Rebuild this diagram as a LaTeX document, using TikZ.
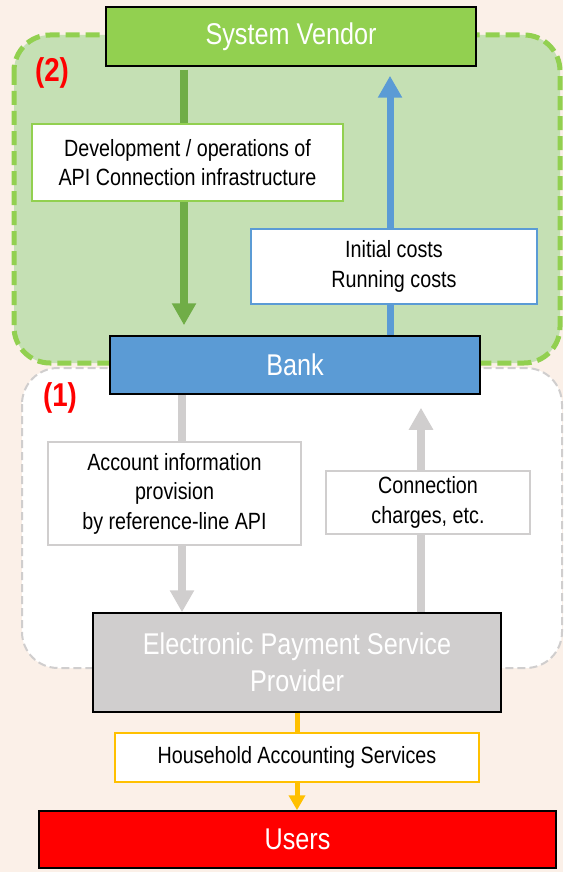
\documentclass[tikz,border=0pt]{standalone}
\usepackage{fontspec}
\setmainfont{Liberation Sans}[FakeStretch=0.84]
\usetikzlibrary{arrows.meta,calc}
\definecolor{bgpeach}{HTML}{FBF0E8}
\definecolor{gfill}{HTML}{C5E0B4}
\definecolor{gline}{HTML}{92D050}
\definecolor{garrowc}{HTML}{70AD47}
\definecolor{bluec}{HTML}{5B9BD5}
\definecolor{grayc}{HTML}{D0CECE}
\definecolor{yelc}{HTML}{FFC000}
\definecolor{redc}{HTML}{FF0000}
\tikzset{
  bigfont/.style={font=\fontsize{30}{37}\selectfont},
  smallfont/.style={font=\fontsize{23.5}{29.5}\selectfont},
  mainbox/.style={draw=black, line width=1.5pt, inner sep=0pt, align=center, text=white, bigfont},
  labelbox/.style={fill=white, line width=2pt, inner sep=0pt, align=center, text=black, smallfont},
  fatarrow/.style={line width=7.5pt, -{Triangle[width=23pt,length=22pt]}},
  regionlabel/.style={text=redc, font=\fontsize{33}{35}\selectfont\bfseries, inner sep=0pt}
}
\begin{document}
\begin{tikzpicture}[x=1pt,y=-1pt]
\useasboundingbox (0,0) rectangle (563,872);
\fill[bgpeach] (0,0) rectangle (563,872);

% regions
\draw[gline, fill=gfill, line width=5pt, dash pattern=on 14pt off 6pt, rounded corners=36pt]
  (14,35) rectangle (560,363);
\draw[grayc, fill=white, line width=2pt, dash pattern=on 8pt off 4pt, rounded corners=36pt]
  (22,368) rectangle (562,668);
\node[regionlabel] (r2) at (52,73) {(2)};
\node[regionlabel] (r1) at (60,398) {(1)};

% main boxes
\node[mainbox, fill=gline, minimum width=370pt, minimum height=59pt] (sv) at (291,36.5) {System Vendor};
\node[mainbox, fill=bluec, minimum width=370pt, minimum height=58pt] (bank) at (295,365) {Bank};
\node[mainbox, fill=grayc, minimum width=408pt, minimum height=99pt] (epsp) at (297,662.5) {Electronic Payment Service\\Provider};
\node[mainbox, fill=redc, minimum width=517pt, minimum height=57pt] (users) at (297.5,839.5) {Users};

% arrow columns
\coordinate (gx) at (184,0);
\coordinate (bx) at (390,0);
\coordinate (ax) at (182,0);
\coordinate (cx) at (421,0);
\coordinate (yx) at (297,0);

% arrows
\draw[fatarrow, garrowc, shorten <=3pt, shorten >=10pt] (sv.south -| gx) -- (bank.north -| gx);
\draw[fatarrow, bluec, line width=7pt, shorten >=9pt] (bank.north -| bx) -- (sv.south -| bx);
\draw[fatarrow, grayc] (bank.south -| ax) -- (epsp.north -| ax);
\draw[fatarrow, grayc, shorten >=13pt] (epsp.north -| cx) -- (bank.south -| cx);
\draw[yelc, line width=5pt, -{Triangle[width=16pt,length=15pt]}] (epsp.south -| yx) -- (users.north -| yx);

% label boxes
\node[labelbox, draw=gline, minimum width=311pt, minimum height=77pt, font=\fontsize{23.5}{28.5}\selectfont] (dev) at (187.5,162.5)
  {Development / operations of\\API Connection infrastructure};
\node[labelbox, draw=bluec, minimum width=286pt, minimum height=75pt] (cost) at (394,266.5)
  {Initial costs\\Running costs};
\node[labelbox, draw=grayc, minimum width=253pt, minimum height=103pt] (acct) at (174.5,493.5)
  {Account information\\provision\\by reference-line API};
\node[labelbox, draw=grayc, minimum width=204pt, minimum height=63pt] (conn) at (428,502.5)
  {Connection\\charges, etc.};
\node[labelbox, draw=yelc, minimum width=364pt, minimum height=49pt] (house) at (297,757.5)
  {Household Accounting Services};
\end{tikzpicture}
\end{document}
